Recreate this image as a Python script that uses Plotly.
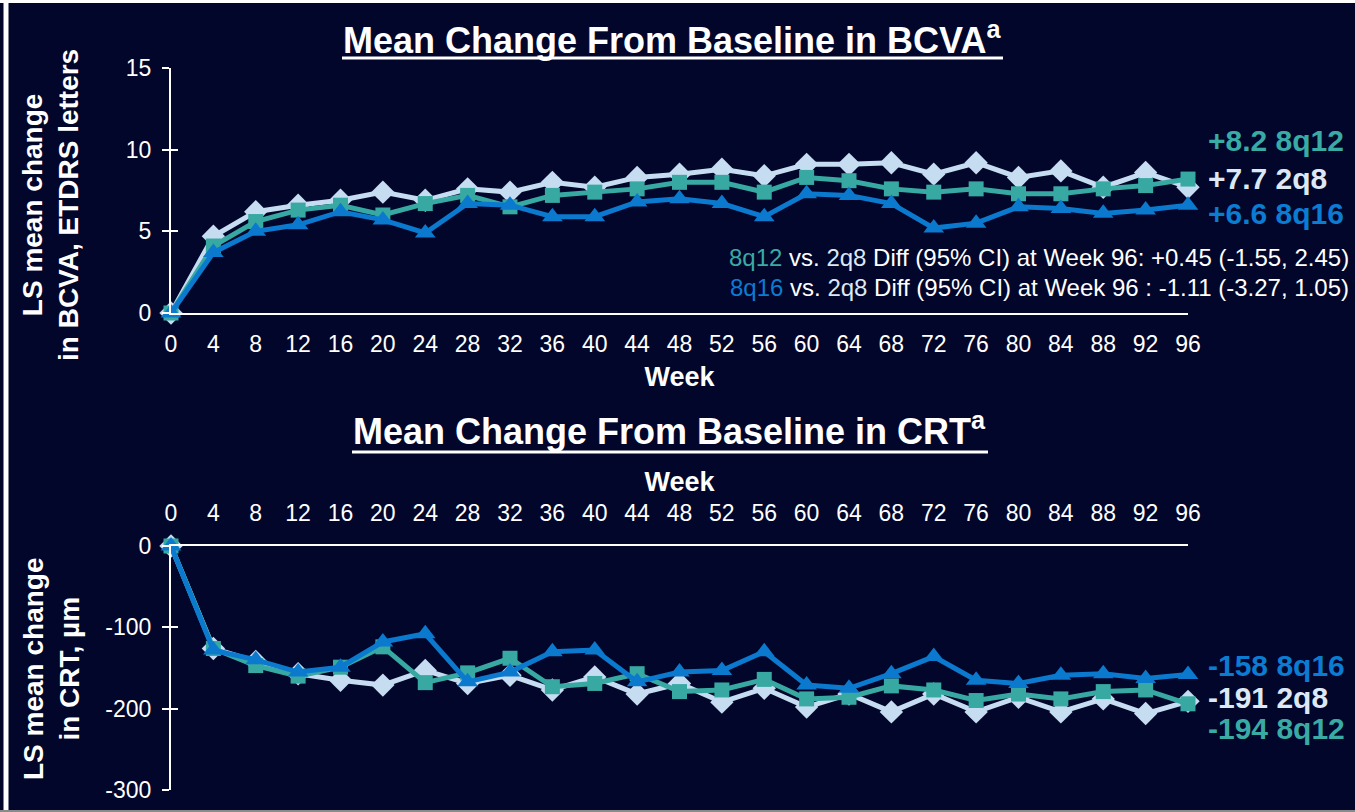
import plotly.graph_objects as go

# ---------------- data ----------------
weeks = [0, 4, 8, 12, 16, 20, 24, 28, 32, 36, 40, 44, 48, 52, 56, 60, 64, 68, 72, 76, 80, 84, 88, 92, 96]

bcva_2q8 = [0, 4.7, 6.2, 6.6, 6.9, 7.4, 6.9, 7.6, 7.4, 8.0, 7.7, 8.3, 8.5, 8.8, 8.4, 9.1, 9.1, 9.2, 8.5, 9.2, 8.3, 8.7, 7.7, 8.6, 7.7]
bcva_8q12 = [0, 4.1, 5.6, 6.3, 6.6, 6.0, 6.7, 7.2, 6.5, 7.2, 7.4, 7.6, 8.0, 8.0, 7.4, 8.3, 8.1, 7.6, 7.4, 7.6, 7.3, 7.3, 7.6, 7.8, 8.2]
bcva_8q16 = [0, 3.7, 5.0, 5.4, 6.2, 5.7, 4.9, 6.7, 6.6, 5.9, 5.9, 6.8, 7.0, 6.7, 5.9, 7.3, 7.2, 6.7, 5.2, 5.5, 6.5, 6.4, 6.1, 6.3, 6.6]

crt_2q8 = [0, -126, -142, -157, -165, -171, -153, -169, -159, -177, -161, -182, -169, -192, -175, -198, -182, -204, -182, -204, -186, -204, -188, -206, -191]
crt_8q12 = [0, -126, -147, -160, -149, -124, -168, -156, -138, -173, -169, -157, -179, -177, -164, -188, -186, -172, -177, -190, -182, -188, -179, -177, -194]
crt_8q16 = [0, -128, -140, -155, -149, -118, -108, -167, -155, -130, -128, -167, -155, -153, -130, -171, -175, -157, -136, -165, -169, -159, -157, -163, -158]

bcva_ticks = [0, 5, 10, 15]
crt_ticks = [-300, -200, -100, 0]

end_labels_bcva = [("+8.2 8q12", "8q12"), ("+7.7 2q8", "2q8"), ("+6.6 8q16", "8q16")]
end_labels_crt = [("-158 8q16", "8q16"), ("-191 2q8", "2q8"), ("-194 8q12", "8q12")]

# ---------------- style ----------------
W, H = 1355, 812
BG = "#01062A"
WHITE = "#FFFFFF"
COL = {"2q8": "#C6DCF1", "8q12": "#37A8A2", "8q16": "#0A79CE"}
TXT = {"2q8": "#DCE8F5", "8q12": "#3AAAA4", "8q16": "#0C7BD2"}
FONT = "Liberation Sans, Arial, sans-serif"

ML, MR = 171, 167
PW = W - ML - MR


def px(xp):
    return (xp - ML) / PW


def py(yp):
    return 1 - yp / H


fig = go.Figure()

series = [
    ("2q8", bcva_2q8, crt_2q8, "diamond", 18),
    ("8q12", bcva_8q12, crt_8q12, "square", 15),
    ("8q16", bcva_8q16, crt_8q16, "triangle-up", 18),
]
for name, b, c, sym, sz in series:
    top_y = "y3" if name == "8q16" else "y"
    bot_y = "y4" if name == "8q16" else "y2"
    for xa, ya, vals in (("x", top_y, b), ("x2", bot_y, c)):
        fig.add_trace(go.Scatter(
            x=weeks, y=vals, xaxis=xa, yaxis=ya, name=name,
            mode="lines+markers",
            line=dict(color=COL[name], width=5),
            marker=dict(symbol=sym, size=sz, color=COL[name]),
            cliponaxis=False, showlegend=False,
        ))

axis_common = dict(showgrid=False, zeroline=False, showline=True, linecolor=WHITE, linewidth=2,
                   automargin=False)
tickfont = dict(family=FONT, size=23, color=WHITE)

fig.update_layout(
    template="none",
    width=W, height=H,
    margin=dict(l=ML, r=MR, t=0, b=0, pad=0, autoexpand=False),
    paper_bgcolor=BG, plot_bgcolor=BG,
    font=dict(family=FONT, color=WHITE),
    xaxis=dict(
        **axis_common, domain=[0, 1], anchor="y", range=[0, 96],
        tickvals=weeks, ticktext=[str(w) for w in weeks], ticks="",
        tickfont=tickfont, ticklabelstandoff=9,
        title=dict(text="<b>Week</b>", font=dict(family=FONT, size=27, color=WHITE), standoff=12),
    ),
    yaxis=dict(
        **axis_common, domain=[py(313), py(68)], anchor="x", range=[0, 15],
        tickvals=bcva_ticks, ticktext=[str(v) for v in bcva_ticks],
        ticks="outside", ticklen=7, tickwidth=2, tickcolor=WHITE,
        tickfont=tickfont, ticklabelstandoff=6,
    ),
    yaxis3=dict(
        showgrid=False, zeroline=False, showline=False, overlaying="y", anchor="x", range=[0, 15],
        tickvals=bcva_ticks, ticks="inside", ticklen=7, tickwidth=2, tickcolor=WHITE,
        showticklabels=False, automargin=False,
    ),
    xaxis2=dict(
        **axis_common, domain=[0, 1], anchor="y2", side="top", range=[0, 96],
        tickvals=weeks, ticktext=[str(w) for w in weeks], ticks="",
        tickfont=tickfont, ticklabelstandoff=14,
        title=dict(text="<b>Week</b>", font=dict(family=FONT, size=27, color=WHITE), standoff=0),
    ),
    yaxis2=dict(
        **axis_common, domain=[py(790), py(546)], anchor="x2", range=[-300, 0],
        tickvals=crt_ticks, ticktext=[str(v) for v in crt_ticks],
        ticks="outside", ticklen=7, tickwidth=2, tickcolor=WHITE,
        tickfont=tickfont, ticklabelstandoff=6,
    ),
    yaxis4=dict(
        showgrid=False, zeroline=False, showline=False, overlaying="y2", anchor="x2", range=[-300, 0],
        tickvals=crt_ticks, ticks="inside", ticklen=7, tickwidth=2, tickcolor=WHITE,
        showticklabels=False, automargin=False,
    ),
)

ann = []
# titles
ann.append(dict(text="<b>Mean Change From Baseline in BCVA<sup>a</sup></b>",
                x=px(672), y=py(38), xref="paper", yref="paper", xanchor="center", yanchor="middle",
                showarrow=False, font=dict(family=FONT, size=36, color=WHITE)))
ann.append(dict(text="<b>Mean Change From Baseline in CRT<sup>a</sup></b>",
                x=px(669), y=py(429), xref="paper", yref="paper", xanchor="center", yanchor="middle",
                showarrow=False, font=dict(family=FONT, size=36, color=WHITE)))
# y titles
ann.append(dict(text="<b>LS mean change<br>in BCVA, ETDRS letters</b>", textangle=-90,
                x=px(50), y=py(205), xref="paper", yref="paper", xanchor="center", yanchor="middle",
                showarrow=False, font=dict(family=FONT, size=28, color=WHITE)))
ann.append(dict(text="<b>LS mean change<br>in CRT, µm</b>", textangle=-90,
                x=px(51), y=py(669), xref="paper", yref="paper", xanchor="center", yanchor="middle",
                showarrow=False, font=dict(family=FONT, size=28, color=WHITE)))
# end labels
for (txt, key), yp in zip(end_labels_bcva, [140, 178, 213]):
    ann.append(dict(text="<b>" + txt + "</b>", x=px(1206), y=py(yp), xref="paper", yref="paper",
                    xanchor="left", yanchor="middle", showarrow=False,
                    font=dict(family=FONT, size=30, color=TXT[key])))
for (txt, key), yp in zip(end_labels_crt, [665, 697, 728]):
    ann.append(dict(text="<b>" + txt + "</b>", x=px(1206), y=py(yp), xref="paper", yref="paper",
                    xanchor="left", yanchor="middle", showarrow=False,
                    font=dict(family=FONT, size=30, color=TXT[key])))
# diff lines
diff1 = (f"<span style='color:{TXT['8q12']}'>8q12</span> vs. <span style='color:{TXT['2q8']}'>2q8</span> "
         "Diff (95% CI) at Week 96: +0.45 (-1.55, 2.45)")
diff2 = (f"<span style='color:{TXT['8q16']}'>8q16</span> vs. <span style='color:{TXT['2q8']}'>2q8</span> "
         "Diff (95% CI) at Week 96 : -1.11 (-3.27, 1.05)")
for txt, yp in ((diff1, 257), (diff2, 287)):
    ann.append(dict(text=txt, x=px(1351), y=py(yp), xref="paper", yref="paper",
                    xanchor="right", yanchor="middle", showarrow=False,
                    font=dict(family=FONT, size=24, color=WHITE)))
fig.update_layout(annotations=ann)

# frame lines and title underlines
fig.update_layout(shapes=[
    dict(type="line", xref="paper", yref="paper", x0=px(0), x1=px(W), y0=py(1.5), y1=py(1.5),
         line=dict(color=WHITE, width=3)),
    dict(type="line", xref="paper", yref="paper", x0=px(6), x1=px(6), y0=py(0), y1=py(H),
         line=dict(color=WHITE, width=5)),
    dict(type="line", xref="paper", yref="paper", x0=px(0), x1=px(W), y0=py(811), y1=py(811),
         line=dict(color="#8A8A8A", width=2)),
    dict(type="line", xref="paper", yref="paper", x0=px(342), x1=px(1003), y0=py(58), y1=py(58),
         line=dict(color=WHITE, width=3)),
    dict(type="line", xref="paper", yref="paper", x0=px(352), x1=px(988), y0=py(452), y1=py(452),
         line=dict(color=WHITE, width=3)),
])

fig.write_html("out.html", config={"displayModeBar": False},
               post_script="document.body.style.margin='0';document.body.style.overflow='hidden';")
